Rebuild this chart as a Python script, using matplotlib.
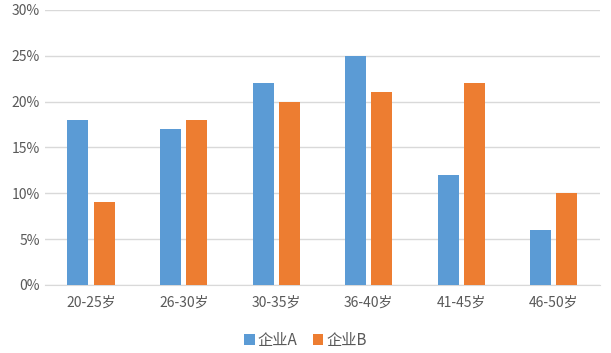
import numpy as np
import matplotlib
matplotlib.use("Agg")
import matplotlib.pyplot as plt
from matplotlib.ticker import PercentFormatter

plt.rcParams['font.family'] = ['Noto Sans CJK SC', 'DejaVu Sans']

categories = ["20-25岁", "26-30岁", "30-35岁", "36-40岁", "41-45岁", "46-50岁"]
series_a = [18, 17, 22, 25, 12, 6]
series_b = [9, 18, 20, 21, 22, 10]
names = ["企业A", "企业B"]
colors = ["#5b9bd5", "#ed7d31"]

fig = plt.figure(figsize=(6.11, 3.53), dpi=100)
ax = fig.add_axes([0.0736, 0.193, 0.9084, 0.779])

x = np.arange(len(categories))
w = 0.227
ax.bar(x - 0.143, series_a, w, color=colors[0], label=names[0], zorder=3)
ax.bar(x + 0.143, series_b, w, color=colors[1], label=names[1], zorder=3)

ax.set_xlim(-0.5, len(categories) - 0.5)
ax.set_ylim(0, 30)
ax.set_yticks(range(0, 31, 5))
ax.yaxis.set_major_formatter(PercentFormatter(decimals=0))
ax.set_xticks(x)
ax.set_xticklabels(categories)
ax.grid(axis="y", color="#d9d9d9", linewidth=1, zorder=0)
for s in ["top", "right", "left"]:
    ax.spines[s].set_visible(False)
ax.spines["bottom"].set_color("#d9d9d9")
ax.tick_params(axis="both", length=0, colors="#595959", labelsize=10)
ax.tick_params(axis="x", pad=8)

fig.legend(loc="center", bbox_to_anchor=(0.5, 0.035), ncol=2, frameon=False,
           handlelength=0.7, handleheight=0.7, handletextpad=0.2, columnspacing=1.0,
           labelcolor="#595959", fontsize=11)

fig.savefig("out.png", dpi=100)
